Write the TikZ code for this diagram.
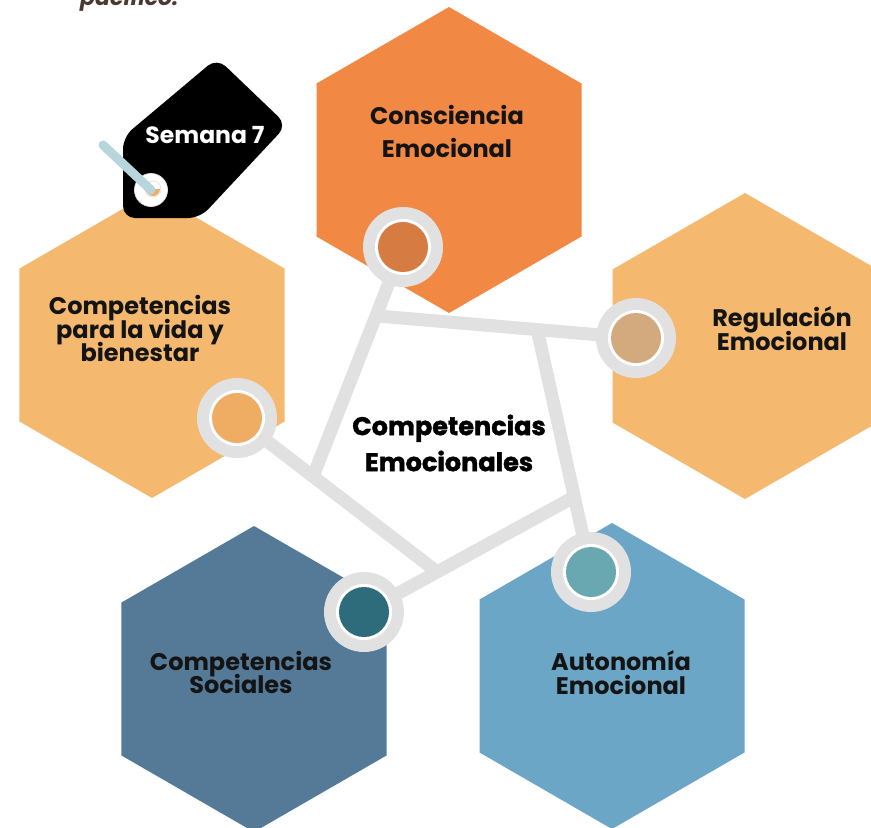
\documentclass[tikz,border=0pt]{standalone}
\usepackage{fontspec}
\setmainfont{Poppins}
\newfontfamily\heavyfont{Poppins}[BoldFeatures={FakeBold=1.6}]
\usetikzlibrary{calc}

\definecolor{hexorange}{HTML}{F18944}
\definecolor{hexlight}{HTML}{F4B86F}
\definecolor{hexnavy}{HTML}{547A98}
\definecolor{hexsky}{HTML}{6BA6C7}
\definecolor{dotorange}{HTML}{D67B42}
\definecolor{dottan}{HTML}{D3A97E}
\definecolor{dotapricot}{HTML}{EFAD63}
\definecolor{dotpetrol}{HTML}{2E6B7B}
\definecolor{dotteal}{HTML}{6AA8B1}
\definecolor{linkgrey}{HTML}{E1E1E1}
\definecolor{stringblue}{HTML}{B7D6DB}
\definecolor{inkbrown}{HTML}{4B3832}
\definecolor{ink}{HTML}{141414}

% pointy-top hexagon of circumradius 153 around (#1,#2)
\newcommand\hexcell[3]{%
  \fill[#3] (#1,#2) +(90:153) -- +(30:153) -- +(-30:153) -- +(-90:153)
    -- +(-150:153) -- +(150:153) -- cycle;}
% ringed dot on a named coordinate
\newcommand\ringdot[2]{%
  \fill[linkgrey] (#1) circle (40pt);
  \fill[white] (#1) circle (28pt);
  \fill[#2] (#1) circle (25pt);}
% tight leading: let the baselines sit closer than the glyph boxes
\newcommand\tightlines{\lineskiplimit=-100pt\relax}

\tikzset{
  label/.style={text=ink, align=center, inner sep=0pt,
    font=\bfseries\fontsize{24}{23.5}\selectfont\tightlines},
  link/.style={draw=linkgrey, line width=13pt},
  title/.style={text=black, align=center, inner sep=0pt,
    font=\heavyfont\bfseries\fontsize{25.5}{36}\selectfont\tightlines},
}

\begin{document}
\begin{tikzpicture}[x=1pt, y=-1pt]
\useasboundingbox (0,0) rectangle (871,828);
\clip (0,0) rectangle (871,828);

% heading line running off the top edge
\node[anchor=base west, inner sep=0pt, text=inkbrown,
  font=\bfseries\itshape\fontsize{22}{26}\selectfont] (head) at (80,5) {pacífico.};

% hexagon cells
\hexcell{449}{160}{hexorange}
\hexcell{745}{346}{hexlight}
\hexcell{152}{345}{hexlight}
\hexcell{254}{679}{hexnavy}
\hexcell{612}{676}{hexsky}

% dot positions and junctions of the link frame
\coordinate (c1) at (403,247);
\coordinate (c2) at (636,338);
\coordinate (c3) at (237,418);
\coordinate (c4) at (364,612);
\coordinate (c5) at (591,572);
\coordinate (j5) at (313,476.5);
\coordinate (j1) at ($(c1)!0.30!(j5)$);
\coordinate (j2) at ($(j1)!0.62!(c2)$);
\coordinate (j3) at ($(j2)!0.69!(c5)$);
\coordinate (j4) at ($(j3)!0.652!(c4)$);

% link frame
\draw[link] (c1) -- (j5);
\draw[link] (j1) -- (c2);
\draw[link] (j2) -- (c5);
\draw[link] (j3) -- (c4);
\draw[link] (c3) -- (j4);

% ringed dots
\ringdot{c1}{dotorange}
\ringdot{c2}{dottan}
\ringdot{c3}{dotapricot}
\ringdot{c4}{dotpetrol}
\ringdot{c5}{dotteal}

% cell labels
\node[label, font=\bfseries\fontsize{24}{33}\selectfont\tightlines] (t1) at (447,131.5) {Consciencia\\Emocional};
\node[label] (t2) at (782,328.5) {Regulación\\Emocional};
\node[label] (t3) at (140,328.5) {Competencias\\para la vida y\\bienestar};
\node[label] (t4) at (241,672.5) {Competencias\\Sociales};
\node[label] (t5) at (621,672.5) {Autonomía\\Emocional};
\node[title] (core) at (449,443) {Competencias\\Emocionales};

% week tag
\fill[black, rounded corners=12pt] (123,218) -- (123,137) -- (217,58) -- (287,125) -- (200,218) -- cycle;
\node[circle, fill=white, draw=linkgrey, line width=0.8pt, minimum size=33pt, inner sep=0pt] (eye) at (151,190) {};
\fill[hexlight!80!dotorange] (153,189) ++(0:7pt) arc[start angle=0, end angle=-180, radius=7pt] -- cycle;
\draw[linkgrey, line width=0.8pt] (153,189) circle (8pt);
\coordinate (strend) at (103,145);
\draw[stringblue, line width=9pt, line cap=round] (strend) -- (eye.center);
\node[text=white, font=\bfseries\fontsize{23.5}{26}\selectfont, inner sep=0pt] (week) at (205,135) {Semana 7};
\end{tikzpicture}
\end{document}
